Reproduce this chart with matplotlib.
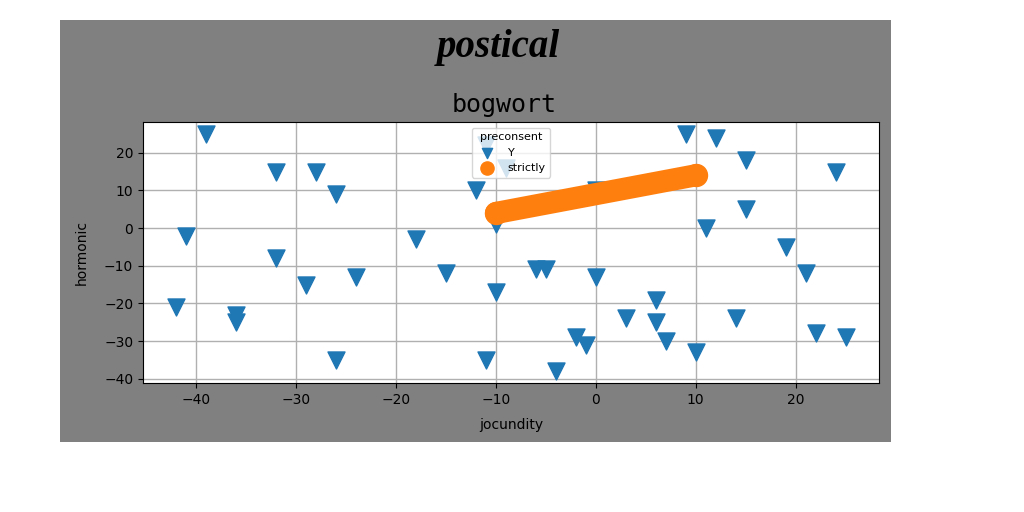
import matplotlib
matplotlib.use("Agg")
import matplotlib.pyplot as plt
from matplotlib.patches import Rectangle

# Series "Y" (blue triangles)
yX = [-39, -32, -28, -26, -41, -32, -29, -24, -42, -36, -36, -26, -18, -12, -10,
      -15, -10, -6, -5, 0, -11, -4, -2, -1, 3, 0, -11, -9, 9, 12, 15, 24, 15, 11,
      19, 21, 6, 6, 7, 10, 14, 22, 25]
yY = [25, 15, 15, 9, -2, -8, -15, -13, -21, -23, -25, -35, -3, 10, 1,
      -12, -17, -11, -11, -13, -35, -38, -29, -31, -24, 10, 22, 16, 25, 24, 18, 15, 5, 0,
      -5, -12, -19, -25, -30, -33, -24, -28, -29]

# Series "strictly" (orange band, ends)
strictlyX = [-10, 10]
strictlyY = [4, 14]

W, H = 1024, 512
fig = plt.figure(figsize=(W / 100, H / 100), dpi=100, facecolor="white")

# Gray figure panel, kept behind everything
x0, y0, x1, y1 = 60, 20, 891, 442
fig.patches.append(Rectangle((x0 / W, 1 - y1 / H), (x1 - x0) / W, (y1 - y0) / H,
                             transform=fig.transFigure, facecolor="#808080",
                             edgecolor="none", zorder=-10))

ax = fig.add_axes([143 / W, 1 - 383 / H, (879 - 143) / W, (383 - 122) / H])
ax.set_zorder(1)
ax.set_facecolor("white")

ax.scatter(yX, yY, marker="v", s=150, color="#1f77b4", label="Y", zorder=2)
ax.plot(strictlyX, strictlyY, color="#ff7f0e", lw=16, solid_capstyle="round", zorder=3)
ax.scatter(strictlyX, strictlyY, marker="o", s=250, color="#ff7f0e", label="strictly", zorder=3)

ax.grid(True, color="#b0b0b0", lw=1)
ax.set_axisbelow(True)
ax.set_xlabel("jocundity", labelpad=8)
ax.set_ylabel("hormonic", labelpad=11)
ax.set_title("bogwort", family="DejaVu Sans Mono", fontsize=18, pad=7, x=0.49)

ax.legend(title="preconsent", loc="upper center", fontsize=8, title_fontsize=8,
          markerscale=0.6)

fig.text(0.487, 1 - 47 / H, "postical", ha="center", va="center",
         family="Liberation Serif", style="italic", weight="bold", fontsize=28)

fig.savefig("out.png", dpi=100, facecolor="white")
